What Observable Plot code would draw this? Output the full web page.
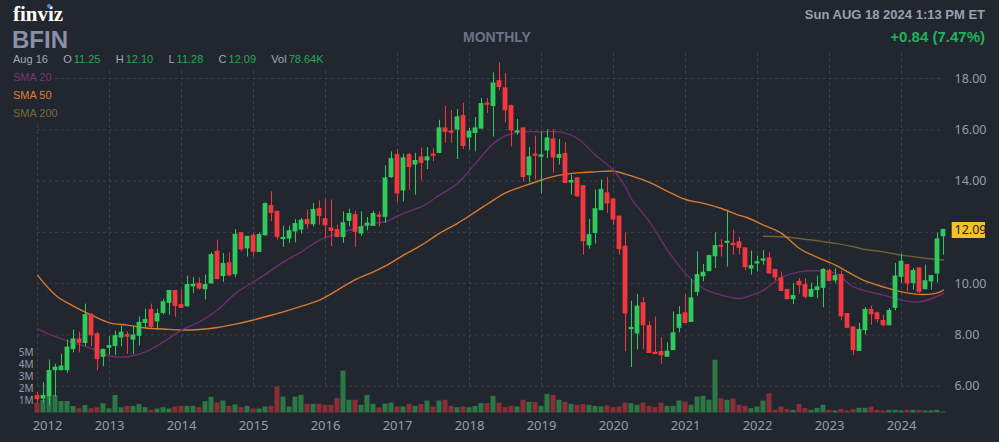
<!DOCTYPE html>
<html><head><meta charset="utf-8">
<script src="https://cdn.jsdelivr.net/npm/d3@7"></script>
<script src="https://cdn.jsdelivr.net/npm/@observablehq/plot@0.6"></script>
<style>
html,body{margin:0;padding:0;background:#22262f;}
#wrap{position:relative;width:999px;height:442px;overflow:hidden;background:#22262f;font-family:"Liberation Sans",Arial,sans-serif;}
#wrap svg{position:absolute;left:0;top:0;background:transparent;}
.t{position:absolute;white-space:nowrap;line-height:1;}
.g{color:#22ab55;margin-left:2px;}
</style></head>
<body><div id="wrap"></div>
<script>
// ---- data (monthly candles, Jan 2012 .. Aug 2024) ----
const startYear = 2012;
const open  = [5.61,5.52,5.61,6.63,6.63,6.63,7.45,7.82,7.69,8.77,8.02,7.15,
               7.50,7.57,7.90,7.99,7.82,7.97,8.47,8.97,8.53,8.86,9.25,9.71,
               9.16,9.12,9.90,9.99,9.79,10.01,11.24,10.30,10.79,10.37,11.96,11.38,
               11.86,11.24,11.89,13.02,12.80,11.74,11.76,12.04,12.11,12.48,12.32,12.90,
               12.51,12.15,12.09,11.82,12.45,12.67,11.96,12.27,12.25,12.65,12.61,14.16,
               15.01,13.64,15.01,14.65,14.92,14.81,15.03,15.10,16.05,15.93,16.01,16.53,
               15.70,15.88,16.05,17.02,16.93,17.89,17.61,16.92,15.90,16.05,14.23,15.03,
               14.95,15.20,15.62,14.91,15.05,13.95,14.10,13.80,11.50,11.98,12.87,13.52,
               13.28,12.61,11.44,8.23,8.06,9.23,8.34,7.30,7.33,7.15,7.41,8.28,
               8.84,8.51,9.68,10.29,10.49,11.07,11.47,11.59,11.55,11.61,11.37,10.59,
               10.79,10.90,10.98,10.53,10.20,9.75,9.40,10.07,9.94,9.49,9.75,9.84,
               10.49,10.13,10.33,8.81,8.29,7.38,8.19,8.97,8.84,8.54,8.38,9.06,
               10.27,10.72,10.03,10.59,9.79,10.09,10.40,11.85];
const high  = [5.76,6.13,7.02,6.86,7.25,7.80,8.19,8.10,9.20,8.84,8.10,7.45,
               7.93,8.15,8.34,8.12,8.32,8.70,9.00,9.20,9.00,9.39,9.74,9.72,
               9.75,10.29,10.23,10.23,10.33,11.20,11.70,11.18,11.20,12.11,11.98,11.84,
               11.96,11.98,13.15,13.58,12.82,12.25,12.24,12.50,12.54,12.87,13.13,13.23,
               13.28,13.26,12.28,12.80,12.90,12.83,12.80,12.58,12.83,12.80,14.60,15.14,
               15.23,15.05,15.08,15.08,15.29,15.31,15.27,16.37,16.92,16.76,16.79,17.03,
               16.05,16.48,17.22,17.22,18.22,18.61,18.19,16.96,16.40,16.07,15.31,15.75,
               15.92,16.01,16.01,15.62,15.50,14.23,14.14,13.82,12.50,13.65,14.04,14.14,
               13.30,12.63,11.97,9.32,9.58,9.46,8.51,8.70,7.89,7.69,8.90,9.10,
               9.58,10.17,11.24,10.75,11.11,11.98,11.72,12.80,12.09,11.80,11.39,11.27,
               11.07,11.29,11.22,10.55,10.46,9.77,10.01,10.20,10.20,10.01,10.29,10.59,
               10.57,10.59,10.49,8.83,8.31,8.45,9.07,9.12,8.90,8.77,9.03,10.79,
               11.15,10.74,10.59,10.61,10.72,10.29,11.98,12.12];
const low   = [5.33,5.35,5.24,5.59,6.60,6.50,7.30,7.30,7.54,7.54,6.60,6.76,
               7.21,7.19,7.54,7.24,7.24,7.57,8.25,8.25,8.19,8.77,8.77,8.68,
               9.04,9.07,9.62,9.75,9.36,10.00,10.16,10.05,10.27,10.23,11.24,11.04,
               11.04,11.22,11.85,12.41,11.70,11.41,11.57,11.59,11.93,12.12,12.21,12.28,
               11.76,11.44,11.80,11.57,12.21,11.41,11.85,12.06,12.23,12.21,12.35,14.10,
               13.15,13.19,13.64,13.45,14.01,14.45,14.75,15.08,15.47,15.47,14.84,15.23,
               15.20,15.14,16.03,16.64,15.72,17.52,16.27,15.33,15.79,13.97,13.93,14.04,
               13.49,14.88,14.30,14.62,13.90,13.45,13.36,11.11,11.35,11.54,12.85,12.74,
               12.28,11.11,7.34,6.73,7.41,7.43,7.28,7.25,6.85,7.14,7.40,8.08,
               8.45,8.50,9.51,10.07,10.47,10.59,11.04,10.65,11.11,11.11,10.50,10.33,
               10.46,10.72,10.38,10.11,9.70,9.36,9.19,9.58,9.40,9.47,9.42,9.06,
               10.09,10.01,8.55,8.26,7.19,7.36,8.00,8.38,8.47,8.32,8.36,8.94,
               10.01,9.68,9.75,9.62,9.75,9.75,10.03,11.11];
const close = [5.50,5.62,6.59,6.72,6.76,7.50,7.82,7.69,8.77,7.99,7.06,7.41,
               7.56,7.95,8.08,7.93,7.97,8.47,8.58,8.32,8.81,9.27,9.71,9.13,
               9.06,9.94,9.95,9.81,9.94,11.11,10.18,10.76,10.33,11.90,11.34,11.82,
               11.25,11.89,13.10,12.76,11.82,11.78,12.04,12.32,12.45,12.32,12.87,12.64,
               12.28,12.06,11.82,12.35,12.71,12.02,12.19,12.34,12.71,12.61,14.10,14.85,
               13.52,14.88,14.55,14.78,14.71,14.92,14.99,16.05,15.92,15.89,16.48,15.37,
               15.92,16.05,17.00,16.98,17.80,17.67,16.76,15.98,15.94,14.16,14.92,14.99,
               15.00,15.66,14.92,15.01,13.93,14.00,13.41,11.66,11.89,12.90,13.65,13.13,
               12.50,11.35,8.84,8.27,9.10,8.38,7.30,7.26,7.21,7.34,8.06,8.77,
               8.47,9.42,10.33,10.42,11.07,11.46,11.44,11.63,11.51,11.40,10.65,10.68,
               10.83,10.94,10.40,10.24,9.72,9.40,9.51,9.94,9.49,9.75,9.85,10.53,
               10.11,10.29,8.73,8.28,7.41,8.19,8.97,8.81,8.62,8.38,8.93,10.27,
               10.85,10.01,10.49,9.68,10.09,10.29,11.72,12.09];
const volumeM = [0.80,1.04,1.37,1.46,0.96,0.96,0.54,0.35,0.62,0.35,0.43,0.77,
               0.35,1.46,0.43,0.54,0.54,0.71,0.45,0.22,0.33,0.44,0.33,0.50,
               0.55,0.55,0.55,0.44,0.94,1.30,0.83,1.00,0.55,0.67,0.44,0.55,
               0.33,0.33,0.50,0.55,2.17,1.33,0.50,1.33,1.47,0.72,0.72,0.72,
               0.64,0.64,1.20,3.50,1.06,1.06,0.64,1.47,0.72,0.42,0.75,0.83,
               0.50,0.50,0.72,0.55,0.72,1.00,0.50,1.00,1.06,0.55,0.44,0.50,
               0.44,0.55,0.78,0.78,1.39,0.83,0.44,0.55,0.50,1.06,0.89,0.89,
               0.55,1.56,1.47,1.06,0.89,0.72,0.64,0.72,0.64,0.55,0.50,0.58,
               0.44,0.50,0.83,0.78,0.64,0.83,0.55,0.44,0.83,0.55,0.55,1.00,
               0.92,0.64,1.33,1.39,1.06,4.40,1.19,1.06,1.17,0.64,0.55,0.36,
               0.50,1.00,1.60,0.22,0.50,0.28,0.22,0.72,0.36,0.22,0.39,0.64,
               0.22,0.17,0.30,0.17,0.28,0.39,0.39,0.50,0.22,0.17,0.22,0.22,
               0.17,0.22,0.22,0.22,0.17,0.17,0.22,0.08];

// moving averages (month index -> value)
const sma20Idx = [0,3,6,9,12,15,18,21,24,27,30,33,36,38,41,44,47,50,53,56,58,61,64,67,70,73,76,78,81,84,87,90,93,96,98,99,102,105,108,111,114,117,118,121,124,127,130,133,136,138,141,144,147,150,151];
const sma20    = [8.24,7.93,7.69,7.47,7.18,7.15,7.34,7.73,8.19,8.51,8.97,9.62,10.07,10.37,10.85,11.24,11.70,11.96,12.15,12.35,12.42,12.74,13.00,13.45,13.91,14.69,15.47,15.77,15.92,15.92,15.92,15.66,15.01,14.42,13.77,13.30,12.41,11.31,10.40,9.81,9.55,9.42,9.47,9.75,10.24,10.46,10.50,10.40,9.87,9.72,9.55,9.36,9.29,9.51,9.62];
const sma50Idx = sma20Idx;
const sma50    = [10.33,9.55,9.12,8.77,8.47,8.38,8.27,8.23,8.19,8.21,8.29,8.42,8.58,8.71,8.90,9.12,9.36,9.75,10.16,10.46,10.69,11.11,11.50,11.96,12.35,12.80,13.26,13.54,13.80,14.04,14.23,14.32,14.36,14.39,14.27,14.20,13.95,13.60,13.28,13.13,12.93,12.66,12.60,12.28,11.96,11.37,11.02,10.72,10.33,10.10,9.87,9.68,9.58,9.64,9.75];
const sma200Idx = [121,124,127,130,133,136,138,141,144,147,150,151];
const sma200    = [11.85,11.83,11.76,11.67,11.57,11.44,11.33,11.24,11.11,11.02,10.94,10.92];

const yearLabels = ["2012","2013","2014","2015","2016","2017","2018","2019","2020","2021","2022","2023","2024"];
const priceTicks = [6,8,10,12,14,16,18];
const volTicks = [1,2,3,4,5];

// ---- styles ----
const UP = "#31c95c", DOWN = "#f2383e", VUP = "#2d7746", VDOWN = "#8a2f3a";
const GRID = "#3c414d", AXIS = "#979dab";
const C20 = "#6f2e6c", C50 = "#d97a2c", C200 = "#6e6134";

const candles = open.map((o, i) => ({i, o, h: high[i], l: low[i], c: close[i], v: volumeM[i], up: close[i] >= o}));
const years = yearLabels.map((label, k) => ({i: k * 12, label}));
const pts = (idx, vals) => idx.map((x, k) => ({x, y: vals[k]}));
const last = candles[candles.length - 1];
// tick labels hidden under the last-price badge are not shown
const visibleTicks = priceTicks.filter(t => Math.abs(t - last.c) > 0.4);

const W = 999, H = 442;
const xScale = {domain: [0, 151], range: [37, 943]};
const yPrice = {domain: [6, 18], range: [385.7, 78]};
const base = {width: W, height: H, marginTop: 0, marginRight: 0, marginBottom: 0, marginLeft: 0,
  style: {background: "transparent", overflow: "visible"}};

const wrap = document.getElementById("wrap");

// grid layer
wrap.appendChild(Plot.plot({...base, x: {...xScale, axis: null}, y: {...yPrice, axis: null},
  marks: [
    Plot.ruleY(priceTicks, {x1: 0, x2: 151, stroke: GRID, strokeDasharray: "3,3"}),
    Plot.ruleX(years, {x: "i", y1: 6, y2: 19.05, stroke: GRID, strokeDasharray: "3,3"})
  ]}));

// volume layer
wrap.appendChild(Plot.plot({...base, x: {...xScale, axis: null}, y: {domain: [0, 5], range: [412.5, 352.5], axis: null},
  marks: [
    Plot.rect(candles, {x1: d => d.i - 0.42, x2: d => d.i + 0.42, y1: 0, y2: "v", fill: d => d.up ? VUP : VDOWN}),
    Plot.text(volTicks, {x: 0, y: d => d, dx: -4, text: d => d + "M", textAnchor: "end", fill: AXIS, fontSize: 10}),
    Plot.text(years.filter(d => d.i > 0), {x: "i", frameAnchor: "bottom", dy: -17, text: "label", fill: AXIS, fontSize: 13, lineAnchor: "middle"}),
    Plot.text(years.filter(d => d.i === 0), {x: "i", frameAnchor: "bottom", dy: -17, dx: 10, text: "label", fill: AXIS, fontSize: 13, lineAnchor: "middle"})
  ]}));

// price layer
wrap.appendChild(Plot.plot({...base, x: {...xScale, axis: null}, y: {...yPrice, axis: null},
  marks: [
    Plot.line(pts(sma200Idx, sma200), {x: "x", y: "y", stroke: C200, strokeWidth: 1.4, curve: "catmull-rom"}),
    Plot.line(pts(sma50Idx, sma50), {x: "x", y: "y", stroke: C50, strokeWidth: 1.4, curve: "catmull-rom"}),
    Plot.line(pts(sma20Idx, sma20), {x: "x", y: "y", stroke: C20, strokeWidth: 1.4, curve: "catmull-rom"}),
    Plot.ruleX(candles, {x: "i", y1: "l", y2: "h", stroke: d => d.up ? UP : DOWN, strokeWidth: 1}),
    Plot.rect(candles, {x1: d => d.i - 0.4, x2: d => d.i + 0.4, y1: d => Math.min(d.o, d.c), y2: d => Math.max(d.o, d.c),
      fill: d => d.up ? UP : DOWN, insetTop: -0.6, insetBottom: -0.6}),
    Plot.text(visibleTicks, {x: 151, y: d => d, dx: 11, text: d => d.toFixed(2), textAnchor: "start", fill: AXIS, fontSize: 12.5}),
    Plot.ruleY([last], {y: "c", x1: d => d.i + 1.45, x2: d => d.i + 7.0, stroke: "#f4c02b", strokeWidth: 16}),
    Plot.text([last], {x: "i", y: "c", dx: 11, text: d => d.c.toFixed(2), textAnchor: "start", fill: "#1e2129", fontSize: 12.5})
  ]}));

// header texts
function add(html, css) { const d = document.createElement("div"); d.className = "t"; d.innerHTML = html; Object.assign(d.style, css); wrap.appendChild(d); return d; }
add("finviz", {left: "13px", top: "4px", fontFamily: "'Liberation Serif','DejaVu Serif',serif", fontWeight: "bold", fontSize: "21px", color: "#ffffff"});
add("", {left: "47px", top: "4px", width: "4px", height: "4px", borderRadius: "50%", background: "#3c8df0"});
add("BFIN", {left: "12px", top: "28px", fontWeight: "bold", fontSize: "24px", color: "#8991a7"});
add("MONTHLY", {left: "497px", top: "30px", transform: "translateX(-50%)", fontWeight: "bold", fontSize: "14px", color: "#6c7384"});
add("Sun AUG 18 2024 1:13 PM ET", {right: "14px", top: "8px", fontWeight: "bold", fontSize: "13px", color: "#9aa0ae"});
add("+0.84 (7.47%)", {right: "14px", top: "29px", fontWeight: "bold", fontSize: "15px", color: "#1fb45a"});
add('Aug 16&nbsp;&nbsp;&nbsp;&nbsp;&nbsp;O<span class="g">11.25</span>&nbsp;&nbsp;&nbsp;&nbsp;&nbsp;H<span class="g">12.10</span>&nbsp;&nbsp;&nbsp;&nbsp;&nbsp;L<span class="g">11.28</span>&nbsp;&nbsp;&nbsp;&nbsp;&nbsp;C<span class="g">12.09</span>&nbsp;&nbsp;&nbsp;&nbsp;&nbsp;Vol<span class="g">78.64K</span>',
  {left: "0px", top: "50px", padding: "4px 8px 5px 13px", fontSize: "11px", color: "#a3a9b6", background: "#22262f"});
add("SMA 20", {left: "0px", top: "70px", padding: "2px 3px 2px 13px", fontSize: "11px", color: "#7a3576", background: "#22262f"});
add("SMA 50", {left: "0px", top: "88px", padding: "2px 3px 2px 13px", fontSize: "11px", color: "#e07f2e", background: "#22262f"});
add("SMA 200", {left: "0px", top: "106px", padding: "2px 3px 2px 13px", fontSize: "11px", color: "#7a6a3a", background: "#22262f"});
</script>
</body></html>
